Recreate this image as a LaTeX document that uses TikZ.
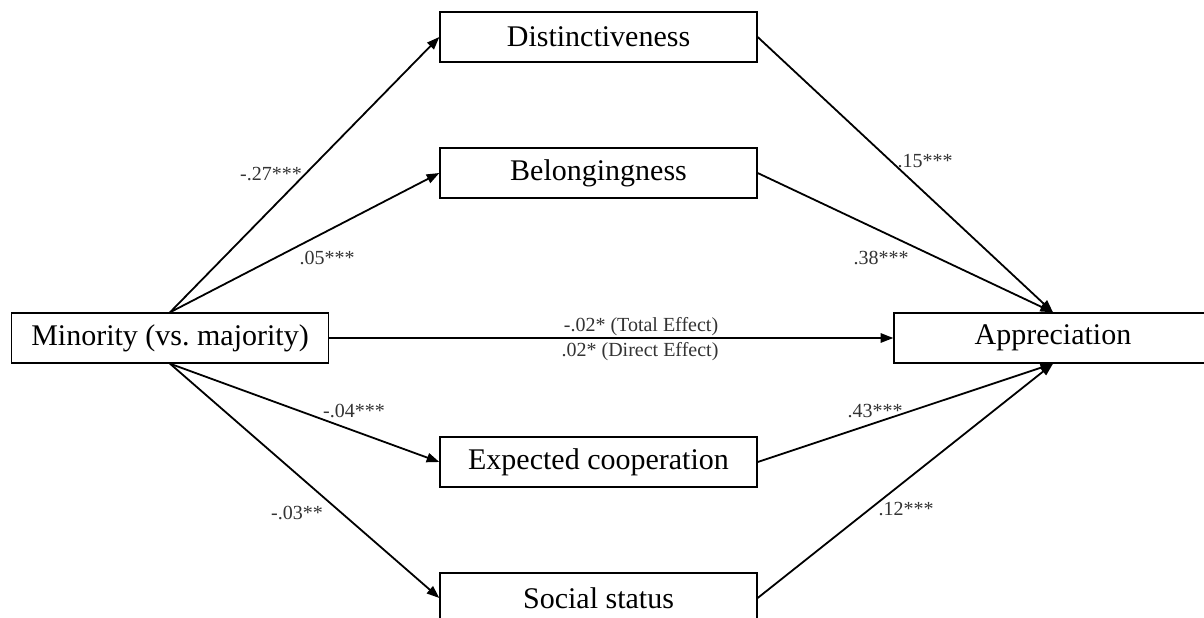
\documentclass[tikz,border=0pt]{standalone}
\usepackage{fontspec}
\setmainfont{Liberation Serif}
\usetikzlibrary{arrows.meta}
\begin{document}
\begin{tikzpicture}[x=0.75pt,y=-0.75pt,
  box/.style={draw, line width=1pt, minimum width=237.75pt, minimum height=37.5pt, inner sep=0pt, font=\fontsize{22.5}{26}\selectfont},
  arr/.style={line width=1.35pt, -{Triangle[length=9.5pt,width=7pt]}},
  lab/.style={font=\fontsize{15}{18}\selectfont, text=black!80, inner sep=0pt}]
\clip (0,0) rectangle (1204,618);
\fill[white] (0,0) rectangle (1204,618);
% boxes
\node[box] (m) at (170,338) {Minority (vs.\ majority)};
\node[box] (d) at (598.5,37) {Distinctiveness};
\node[box] (b) at (598.5,173) {Belongingness};
\node[box] (e) at (598.5,462) {Expected cooperation};
\node[box] (s) at (598.5,598) {Social status};
\node[box, minimum width=238.5pt] (a) at (1053,338) {Appreciation};
% connectors
\draw[arr] (m.north) -- (d.west);
\draw[arr] (m.north) -- (b.west);
\draw[arr] (m.south) -- (e.west);
\draw[arr] (m.south) -- (s.west);
\draw[arr] (m) -- (a);
\draw[arr] (d.east) -- (a.north);
\draw[arr] (b.east) -- (a.north);
\draw[arr] (e.east) -- (a.south);
\draw[arr] (s.east) -- (a.south);
% labels
\node[lab] (l1) at (271,174) {-.27***};
\node[lab] (l2) at (327,258) {.05***};
\node[lab] (l3) at (925,161) {.15***};
\node[lab] (l4) at (881,258) {.38***};
\node[lab] (l5) at (641,327) {-.02* (Total Effect)};
\node[lab] (l6) at (640,352) {.02* (Direct Effect)};
\node[lab] (l7) at (354,411) {-.04***};
\node[lab] (l8) at (297,513) {-.03**};
\node[lab] (l9) at (875,411) {.43***};
\node[lab] (l10) at (906,509) {.12***};
\end{tikzpicture}
\end{document}
